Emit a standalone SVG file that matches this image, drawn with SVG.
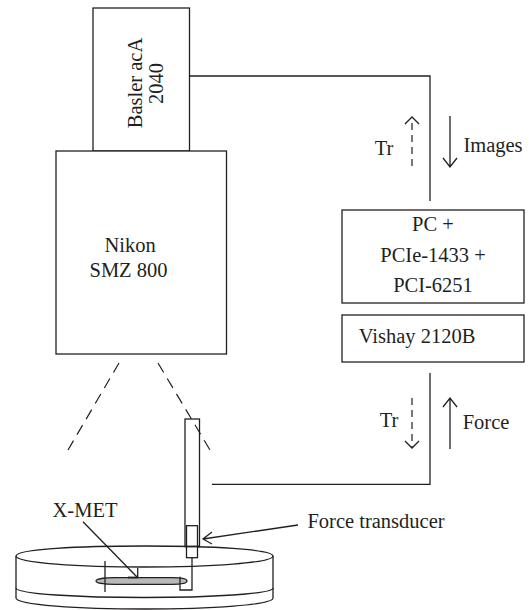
<svg xmlns="http://www.w3.org/2000/svg" width="529" height="610" viewBox="0 0 529 610">
<defs><style>
.s{fill:none;stroke:#231f20;stroke-width:1.3}
.b{fill:#fff;stroke:#231f20;stroke-width:1.3}
.d{fill:none;stroke:#231f20;stroke-width:1.2;stroke-dasharray:11 7}
.t{fill:none;stroke:#231f20;stroke-width:1.2;stroke-dasharray:7 5}
text{font-family:"Liberation Serif","Times New Roman",serif;font-size:20.5px;fill:#231f20;text-anchor:middle}
</style></defs>
<rect width="529" height="610" fill="#fff"/>
<g id="camera"><rect class="b" x="93" y="8" width="96.500" height="143"/>
<text transform="translate(141.700 83) rotate(-90)">Basler acA</text>
<text transform="translate(162.700 83.500) rotate(-90)">2040</text></g>
<g id="microscope"><rect class="b" x="56" y="151" width="170.500" height="203"/>
<text x="130" y="252">Nikon</text><text x="128.500" y="277">SMZ 800</text></g>
<g id="pc"><rect class="b" x="342" y="210" width="182" height="93"/>
<text x="433" y="231">PC +</text><text x="433" y="262">PCIe-1433 +</text><text x="433" y="292">PCI-6251</text></g>
<g id="vishay"><rect class="b" x="342" y="315" width="182" height="47"/>
<text x="417" y="343">Vishay 2120B</text></g>
<g id="dish">
<path class="b" d="M16 556C16 549 80 546 144.500 546S273 549 273 556V598C273 605 210 609 144.500 609S16 605 16 598Z"/>
<path class="s" d="M16 556C16 563 80 567 144.500 567S273 563 273 556"/>
<path class="s" d="M16 588C16 594 80 597.500 144.500 597.500S273 594 273 588"/>
</g>
<g id="xmet">
<path d="M96 581C96 579 104 577.700 115 577.700H172C181 577.700 187 579 187 581S181 584.300 172 584.300H115C104 584.300 96 583 96 581Z" fill="#b9b9b9" stroke="#231f20" stroke-width="1.200"/>
<path class="s" d="M105 561V592M137.700 568V577.500"/>
<path d="M128 577.500H138" stroke="#231f20" stroke-width="1.800"/>
<path class="s" d="M180 576.700V590H192V557"/>
</g>
<g id="transducer">
<rect class="b" x="185" y="419" width="14.500" height="127.500"/>
<rect class="b" x="186.500" y="525.700" width="11" height="32"/>
<path d="M185 546.500H199.500" stroke="#231f20" stroke-width="1.800"/>
</g>
<g id="connectors">
<path class="s" d="M189.500 76H430V201"/>
<path class="s" d="M212 484.300H430V373"/>
<path class="d" d="M119 363L68 450"/>
<path class="d" d="M158 363L210 450"/>
<path class="s" d="M450 116V167M443 158L450 167L457 158"/>
<path class="s" d="M450 449V398M443 407L450 398L457 407"/>
<path class="t" d="M412 166V119"/><path class="s" d="M405 124L412 117L419 124"/>
<path class="t" d="M412 398V447"/><path class="s" d="M405 441L412 448L419 441"/>
<path class="s" d="M298 525L203 539M212 532L203 539L212 544"/>
<path class="s" d="M83 521.700L137 577"/>
</g>
<g id="labels">
<text x="384" y="155">Tr</text>
<text x="493" y="152">Images</text>
<text x="389" y="427">Tr</text>
<text x="486" y="429">Force</text>
<text x="85" y="517">X-MET</text>
<text x="376" y="528">Force transducer</text>
</g>
</svg>
